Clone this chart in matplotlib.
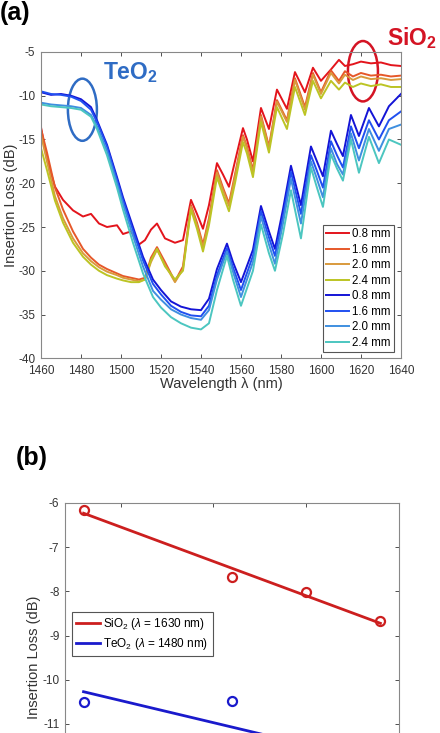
import numpy as np
import matplotlib
matplotlib.use("Agg")
import matplotlib.pyplot as plt
from matplotlib.patches import Ellipse

plt.rcParams['font.family'] = ['Liberation Sans', 'DejaVu Sans']
plt.rcParams['mathtext.fontset'] = 'custom'
plt.rcParams['mathtext.rm'] = 'Liberation Sans'
plt.rcParams['mathtext.it'] = 'Liberation Sans:italic'
plt.rcParams['mathtext.bf'] = 'Liberation Sans:bold'
plt.rcParams['axes.unicode_minus'] = False

# --- (a) spectra ---
lengths = ["0.8 mm", "1.6 mm", "2.0 mm", "2.4 mm"]

wl_sio2 = [1460, 1463, 1467, 1471, 1476, 1481, 1485, 1489, 1493, 1498, 1501, 1505,
           1509, 1512, 1515, 1518, 1522, 1527, 1531, 1535, 1538, 1541, 1544, 1548,
           1551, 1554, 1557, 1561, 1563, 1566, 1570, 1574, 1578, 1583, 1587, 1592,
           1596, 1600, 1605, 1609, 1612, 1616, 1620, 1625, 1630, 1635, 1640]
sio2_08 = [-13.6, -17.3, -20.4, -21.9, -23.1, -23.8, -23.5, -24.6, -25.0, -24.8, -25.8, -25.5,
           -27.0, -26.5, -25.3, -24.6, -26.3, -26.8, -26.5, -21.9, -23.5, -25.2, -22.5, -17.7,
           -19.0, -20.4, -17.5, -13.7, -15.0, -17.5, -11.4, -13.8, -9.3, -11.5, -7.3, -9.6,
           -6.8, -8.3, -7.0, -5.9, -6.6, -6.4, -6.1, -6.3, -6.2, -6.5, -6.6]
sio2_16 = [-13.8, -16.5, -20.5, -23.0, -25.5, -27.5, -28.5, -29.3, -29.8, -30.3, -30.6, -30.8,
           -31.0, -30.8, -28.5, -27.3, -29.0, -31.2, -29.5, -22.5, -24.5, -27.0, -24.0, -18.5,
           -20.5, -22.3, -19.0, -14.5, -15.8, -18.5, -12.2, -15.8, -10.5, -12.8, -8.0, -11.3,
           -7.4, -9.6, -7.1, -8.3, -7.2, -7.8, -7.4, -7.7, -7.6, -7.8, -7.7]
sio2_20 = [-14.5, -17.5, -21.5, -24.0, -26.3, -28.0, -28.9, -29.6, -30.1, -30.5, -30.8, -31.0,
           -31.2, -31.0, -29.0, -27.6, -29.3, -31.3, -29.8, -22.7, -24.8, -27.3, -24.3, -18.8,
           -20.8, -22.6, -19.3, -14.7, -16.0, -18.8, -12.4, -16.0, -10.7, -13.0, -8.2, -11.6,
           -7.6, -9.8, -7.4, -8.6, -7.6, -8.2, -7.8, -8.1, -8.0, -8.2, -8.1]
sio2_24 = [-16.0, -18.5, -22.0, -24.5, -26.8, -28.4, -29.3, -30.0, -30.5, -30.9, -31.1, -31.3,
           -31.3, -31.0, -28.8, -27.5, -29.5, -31.0, -30.0, -23.0, -25.2, -27.8, -24.8, -19.3,
           -21.3, -23.2, -20.0, -15.3, -16.6, -19.3, -13.0, -16.5, -11.3, -13.8, -9.0, -12.2,
           -8.3, -10.3, -8.3, -9.3, -8.5, -9.0, -8.6, -8.9, -8.7, -9.0, -9.0]

wl_teo2 = [1460, 1465, 1470, 1475, 1480, 1485, 1488, 1493, 1498, 1501, 1506, 1511, 1516,
           1520, 1525, 1530, 1535, 1540, 1544, 1548, 1553, 1556, 1560, 1566, 1570, 1574,
           1577, 1581, 1585, 1590, 1595, 1598, 1601, 1605, 1608, 1611, 1615, 1619, 1624,
           1629, 1634, 1640]
teo2_08 = [-9.6, -9.9, -9.8, -10.0, -10.4, -11.3, -12.8, -15.6, -19.3, -21.6, -25.0, -28.4, -31.0,
           -32.2, -33.5, -34.1, -34.4, -34.5, -33.2, -29.8, -26.9, -29.0, -31.3, -27.6, -22.6, -25.5,
           -27.5, -23.0, -18.0, -22.5, -15.8, -17.5, -19.2, -14.0, -15.5, -16.9, -12.2, -14.6, -11.4,
           -13.5, -11.2, -9.8]
teo2_16 = [-9.5, -9.8, -9.9, -10.1, -10.6, -11.6, -13.0, -15.8, -19.6, -21.9, -25.4, -28.8, -31.5,
           -32.7, -34.0, -34.7, -35.1, -35.2, -34.0, -30.5, -27.4, -29.6, -32.2, -28.3, -23.2, -26.2,
           -28.3, -23.8, -18.7, -23.5, -16.8, -18.6, -20.5, -15.2, -16.8, -18.2, -13.5, -16.0, -12.8,
           -15.0, -12.8, -11.8]
teo2_20 = [-10.8, -11.0, -11.1, -11.2, -11.4, -12.2, -13.5, -16.3, -20.0, -22.4, -26.0, -29.5, -32.3,
           -33.3, -34.4, -35.0, -35.4, -35.6, -34.5, -31.0, -27.8, -30.1, -33.0, -29.0, -23.8, -27.0,
           -29.2, -24.6, -19.5, -24.6, -17.5, -19.5, -21.6, -16.0, -17.8, -19.0, -14.3, -17.4, -13.8,
           -16.3, -13.8, -13.3]
teo2_24 = [-11.0, -11.2, -11.3, -11.4, -11.6, -12.4, -13.8, -16.8, -20.5, -23.0, -26.8, -30.3, -33.0,
           -34.2, -35.3, -36.0, -36.5, -36.7, -36.0, -32.2, -28.3, -31.0, -34.0, -30.0, -24.7, -28.0,
           -30.0, -25.8, -20.8, -26.3, -18.2, -20.5, -22.7, -16.7, -18.3, -19.7, -15.0, -18.8, -14.7,
           -17.7, -15.0, -15.6]

sio2_colors = ["#e3141c", "#e6582a", "#d99a3c", "#bcc424"]
teo2_colors = ["#1414d6", "#2050f0", "#3f8fe0", "#4cc6c0"]

# --- (b) insertion loss vs length ---
length_mm = [0.8, 1.6, 2.0, 2.4]
il_sio2 = [-6.15, -7.68, -8.02, -8.68]
il_teo2 = [-10.5, -10.48, -11.73, -11.97]

fig = plt.figure(figsize=(4.4, 7.33), dpi=100)

ax = fig.add_axes([0.0932, 0.5112, 0.818, 0.4179])
for y, c, lab in zip([sio2_08, sio2_16, sio2_20, sio2_24], sio2_colors, lengths):
    ax.plot(wl_sio2, y, color=c, lw=1.4, label=lab)
for y, c, lab in zip([teo2_08, teo2_16, teo2_20, teo2_24], teo2_colors, lengths):
    ax.plot(wl_teo2, y, color=c, lw=1.4, label=lab)

ax.set_xlim(1460, 1640)
ax.set_ylim(-40, -5)
ax.set_xticks(np.arange(1460, 1641, 20))
ax.set_yticks(np.arange(-40, -4, 5))
ax.set_xlabel("Wavelength λ (nm)", fontsize=10.5, color="#333333", labelpad=0)
ax.set_ylabel("Insertion Loss (dB)", fontsize=10.5, color="#333333", labelpad=0)
leg = ax.legend(loc="lower right", bbox_to_anchor=(0.98, 0.02), borderaxespad=0,
                fontsize=8.3, handlelength=2.0, handletextpad=0.2, labelspacing=0.3,
                borderpad=0.3, fancybox=False, framealpha=1, edgecolor="#555555")
leg.get_frame().set_linewidth(0.8)

ax.text(1504.5, -7.3, r"TeO$_\mathbf{2}$", color="#2f6cc4", fontsize=16.5, fontweight="bold",
        ha="center", va="center")
ax.text(1645.5, -3.4, r"SiO$_\mathbf{2}$", color="#d41424", fontsize=16.5, fontweight="bold",
        ha="center", va="center", clip_on=False)
ax.add_patch(Ellipse((1480.7, -11.6), 14.5, 7.1, fill=False, ec="#2f6cc4", lw=1.8))
ax.add_patch(Ellipse((1621, -7.2), 15, 6.9, fill=False, ec="#d41424", lw=1.8, clip_on=False))

ax2 = fig.add_axes([0.1477, -0.1083, 0.759, 0.4221])
fit_s = np.polyfit(length_mm, il_sio2, 1)
fit_t = np.polyfit(length_mm, il_teo2, 1)
xs = np.array([length_mm[0], length_mm[-1]])
ax2.plot(xs, np.polyval(fit_s, xs), color="#cc1f1f", lw=2,
         label=r"SiO$_2$ ($\lambda$ = 1630 nm)")
ax2.plot(xs, np.polyval(fit_t, xs), color="#1a1acc", lw=2,
         label=r"TeO$_2$ ($\lambda$ = 1480 nm)")
ax2.plot(length_mm, il_sio2, "o", mfc="none", mec="#cc1f1f", mew=1.6, ms=6.5)
ax2.plot(length_mm, il_teo2, "o", mfc="none", mec="#1a1acc", mew=1.6, ms=6.5)
ax2.set_xlim(0.7, 2.5)
ax2.set_ylim(-13, -6)
ax2.set_xticks([1.0, 1.5, 2.0, 2.5])
ax2.set_yticks(np.arange(-11, -5, 1))
ax2.set_ylabel("Insertion Loss (dB)", fontsize=10.5, color="#333333", labelpad=1)
leg2 = ax2.legend(loc="upper left", bbox_to_anchor=(0.021, 0.648), borderaxespad=0,
                  fontsize=8.5, handlelength=2.0, handletextpad=0.3, labelspacing=0.35,
                  borderpad=0.35, fancybox=False, framealpha=1, edgecolor="#555555")
leg2.get_frame().set_linewidth(0.8)

for a in (ax, ax2):
    a.tick_params(direction="in", top=True, right=True, labelsize=8.5,
                  colors="#333333", length=3, width=0.6)
    a.tick_params(axis="x", pad=5)
    a.tick_params(axis="y", pad=4)
    for s in a.spines.values():
        s.set_color("#888888")
        s.set_linewidth(0.8)
ax2.tick_params(labelbottom=False)

fig.text(0.0, 0.999, "(a)", fontsize=18, fontweight="bold", ha="left", va="top")
fig.text(0.035, 0.375, "(b)", fontsize=18, fontweight="bold", ha="left", va="center")

fig.savefig("out.png", dpi=100, facecolor="white")
